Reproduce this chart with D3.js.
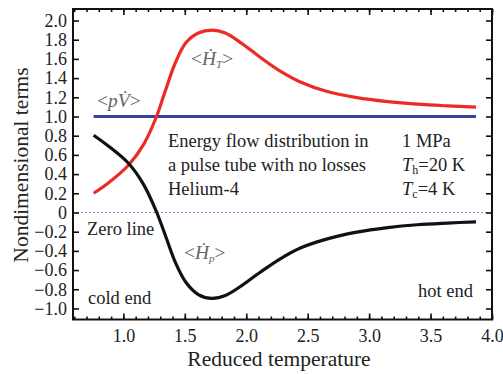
<!DOCTYPE html>
<html><head><meta charset="utf-8">
<script src="https://cdn.jsdelivr.net/npm/d3@7/dist/d3.min.js"></script>
<style>
html,body{margin:0;padding:0;background:#fff;}
svg{display:block;font-family:"Liberation Serif","Times New Roman",serif;}
</style></head>
<body>
<svg id="chart" width="503" height="374" font-family="Liberation Serif, Times New Roman, serif"></svg>
<script>
// Data
const reducedT = [0.758, 0.88, 1.043, 1.165, 1.27, 1.342, 1.423, 1.51, 1.61, 1.72, 1.83, 1.96, 2.116, 2.28, 2.44, 2.66, 2.90, 3.15, 3.39, 3.64, 3.87];
const hT = [0.20, 0.31, 0.495, 0.71, 1.0, 1.27, 1.56, 1.77, 1.87, 1.90, 1.87, 1.765, 1.615, 1.47, 1.36, 1.26, 1.196, 1.155, 1.128, 1.11, 1.097];
const hP = [0.805, 0.69, 0.51, 0.29, 0.005, -0.24, -0.52, -0.73, -0.855, -0.895, -0.865, -0.765, -0.62, -0.48, -0.37, -0.275, -0.205, -0.158, -0.128, -0.11, -0.097];
const pV = [1.0, 1.0];
const pVx = [0.758, 3.87];
const yTicks = [2.0, 1.8, 1.6, 1.4, 1.2, 1.0, 0.8, 0.6, 0.4, 0.2, 0, -0.2, -0.4, -0.6, -0.8, -1.0];
const xTicks = [1.0, 1.5, 2.0, 2.5, 3.0, 3.5, 4.0];

const FONT = "Liberation Serif";
const svg = d3.select("#chart");
const L = 73, R = 492, T = 9, B = 319.5;
const x = d3.scaleLinear().domain([0.59, 4.0]).range([L, R]);
const y = d3.scaleLinear().domain([-1.115, 2.12]).range([B, T]);

svg.append("rect").attr("width", 503).attr("height", 374).attr("fill", "#fff");

// zero line
svg.append("line").attr("x1", L + 4).attr("x2", R).attr("y1", y(0)).attr("y2", y(0))
  .attr("stroke", "#8f8fe0").attr("stroke-width", 1).attr("stroke-dasharray", "2,2");

// ticks
const minor = d3.range(0.6, 4.0001, 0.1);
const fmtY = d => d === 0 ? "0" : (d < 0 ? "\u2212" + Math.abs(d).toFixed(1) : d.toFixed(1));

const bottom = d3.axisBottom(x).tickValues(xTicks).tickSizeInner(-6).tickSizeOuter(0).tickPadding(10).tickFormat(d3.format(".1f"));
const gB = svg.append("g").attr("transform", `translate(0,${B})`).call(bottom);
const gBm = svg.append("g").attr("transform", `translate(0,${B})`).call(d3.axisBottom(x).tickValues(minor).tickSizeInner(-3).tickSizeOuter(0).tickFormat(""));
const gTm = svg.append("g").attr("transform", `translate(0,${T})`).call(d3.axisTop(x).tickValues(minor).tickSizeInner(-3).tickSizeOuter(0).tickFormat(""));
const gT = svg.append("g").attr("transform", `translate(0,${T})`).call(d3.axisTop(x).tickValues(xTicks).tickSizeInner(-6).tickSizeOuter(0).tickFormat(""));
const gL = svg.append("g").attr("transform", `translate(${L},0)`).call(d3.axisLeft(y).tickValues(yTicks).tickSizeInner(-6).tickSizeOuter(0).tickPadding(6).tickFormat(fmtY));
const gR = svg.append("g").attr("transform", `translate(${R},0)`).call(d3.axisRight(y).tickValues(yTicks).tickSizeInner(-6).tickSizeOuter(0).tickFormat(""));

[gB, gBm, gTm, gT, gL, gR].forEach(g => {
  g.attr("font-family", FONT);
  g.select(".domain").remove();
  g.selectAll(".tick line").attr("stroke", "#111").attr("stroke-width", 1.6);
  g.selectAll(".tick text").attr("fill", "#222").attr("font-size", 18).attr("font-family", FONT);
});

// curves
const line = d3.line().x(d => x(d[0])).y(d => y(d[1])).curve(d3.curveCatmullRom.alpha(0.5));
svg.append("path").datum(pVx.map((v, i) => [v, pV[i]])).attr("d", line)
  .attr("fill", "none").attr("stroke", "#34439e").attr("stroke-width", 3.2);
svg.append("path").datum(reducedT.map((v, i) => [v, hT[i]])).attr("d", line)
  .attr("fill", "none").attr("stroke", "#ee2a24").attr("stroke-width", 3.2);
svg.append("path").datum(reducedT.map((v, i) => [v, hP[i]])).attr("d", line)
  .attr("fill", "none").attr("stroke", "#111").attr("stroke-width", 3.2);

// frame
svg.append("rect").attr("x", L).attr("y", T).attr("width", R - L).attr("height", B - T)
  .attr("fill", "none").attr("stroke", "#111").attr("stroke-width", 2);

// axis titles
svg.append("text").attr("x", 279).attr("y", 366).attr("text-anchor", "middle").attr("font-family", FONT)
  .attr("font-size", 21.5).attr("fill", "#222").text("Reduced temperature");
svg.append("text").attr("transform", "translate(28,165) rotate(-90)").attr("text-anchor", "middle").attr("font-family", FONT)
  .attr("font-size", 21.5).attr("fill", "#222").text("Nondimensional terms");

// annotation texts
const ann = [
  ["Energy flow distribution in", 168, 147],
  ["a pulse tube with no losses", 168, 171],
  ["Helium-4", 168, 195],
  ["1 MPa", 402, 147],
  ["Zero line", 87, 235],
  ["cold end", 88, 304]
];
ann.forEach(a => svg.append("text").attr("x", a[1]).attr("y", a[2]).attr("font-family", FONT).attr("font-size", 18.5).attr("fill", "#222").text(a[0]));
svg.append("text").attr("x", 473).attr("y", 297).attr("text-anchor", "end").attr("font-family", FONT).attr("font-size", 18.5).attr("fill", "#222").text("hot end");

function tsub(tx, ty, main, sub, rest) {
  const t = svg.append("text").attr("x", tx).attr("y", ty).attr("font-family", FONT).attr("font-size", 18.5).attr("fill", "#222");
  t.append("tspan").attr("font-style", "italic").text(main);
  t.append("tspan").attr("font-size", 12).attr("dy", 3).text(sub);
  t.append("tspan").attr("dy", -3).text(rest);
}
tsub(402, 171, "T", "h", "=20 K");
tsub(402, 195, "T", "c", "=4 K");

// flow labels
function flowLabel(tx, ty, main, sub) {
  const t = svg.append("text").attr("x", tx).attr("y", ty).attr("font-family", FONT).attr("font-size", 19.5).attr("fill", "#666");
  t.append("tspan").text("<");
  t.append("tspan").attr("font-style", "italic").text(main);
  if (sub) {
    t.append("tspan").attr("font-style", "italic").attr("font-size", 11).attr("dy", 3).text(sub);
    t.append("tspan").attr("dy", -3).text(">");
  } else {
    t.append("tspan").text(">");
  }
}
flowLabel(97, 107, "pV\u0307", null);
flowLabel(191, 65, "\u1E22", "T");
flowLabel(184, 259, "\u1E22", "p");
</script>
</body></html>
